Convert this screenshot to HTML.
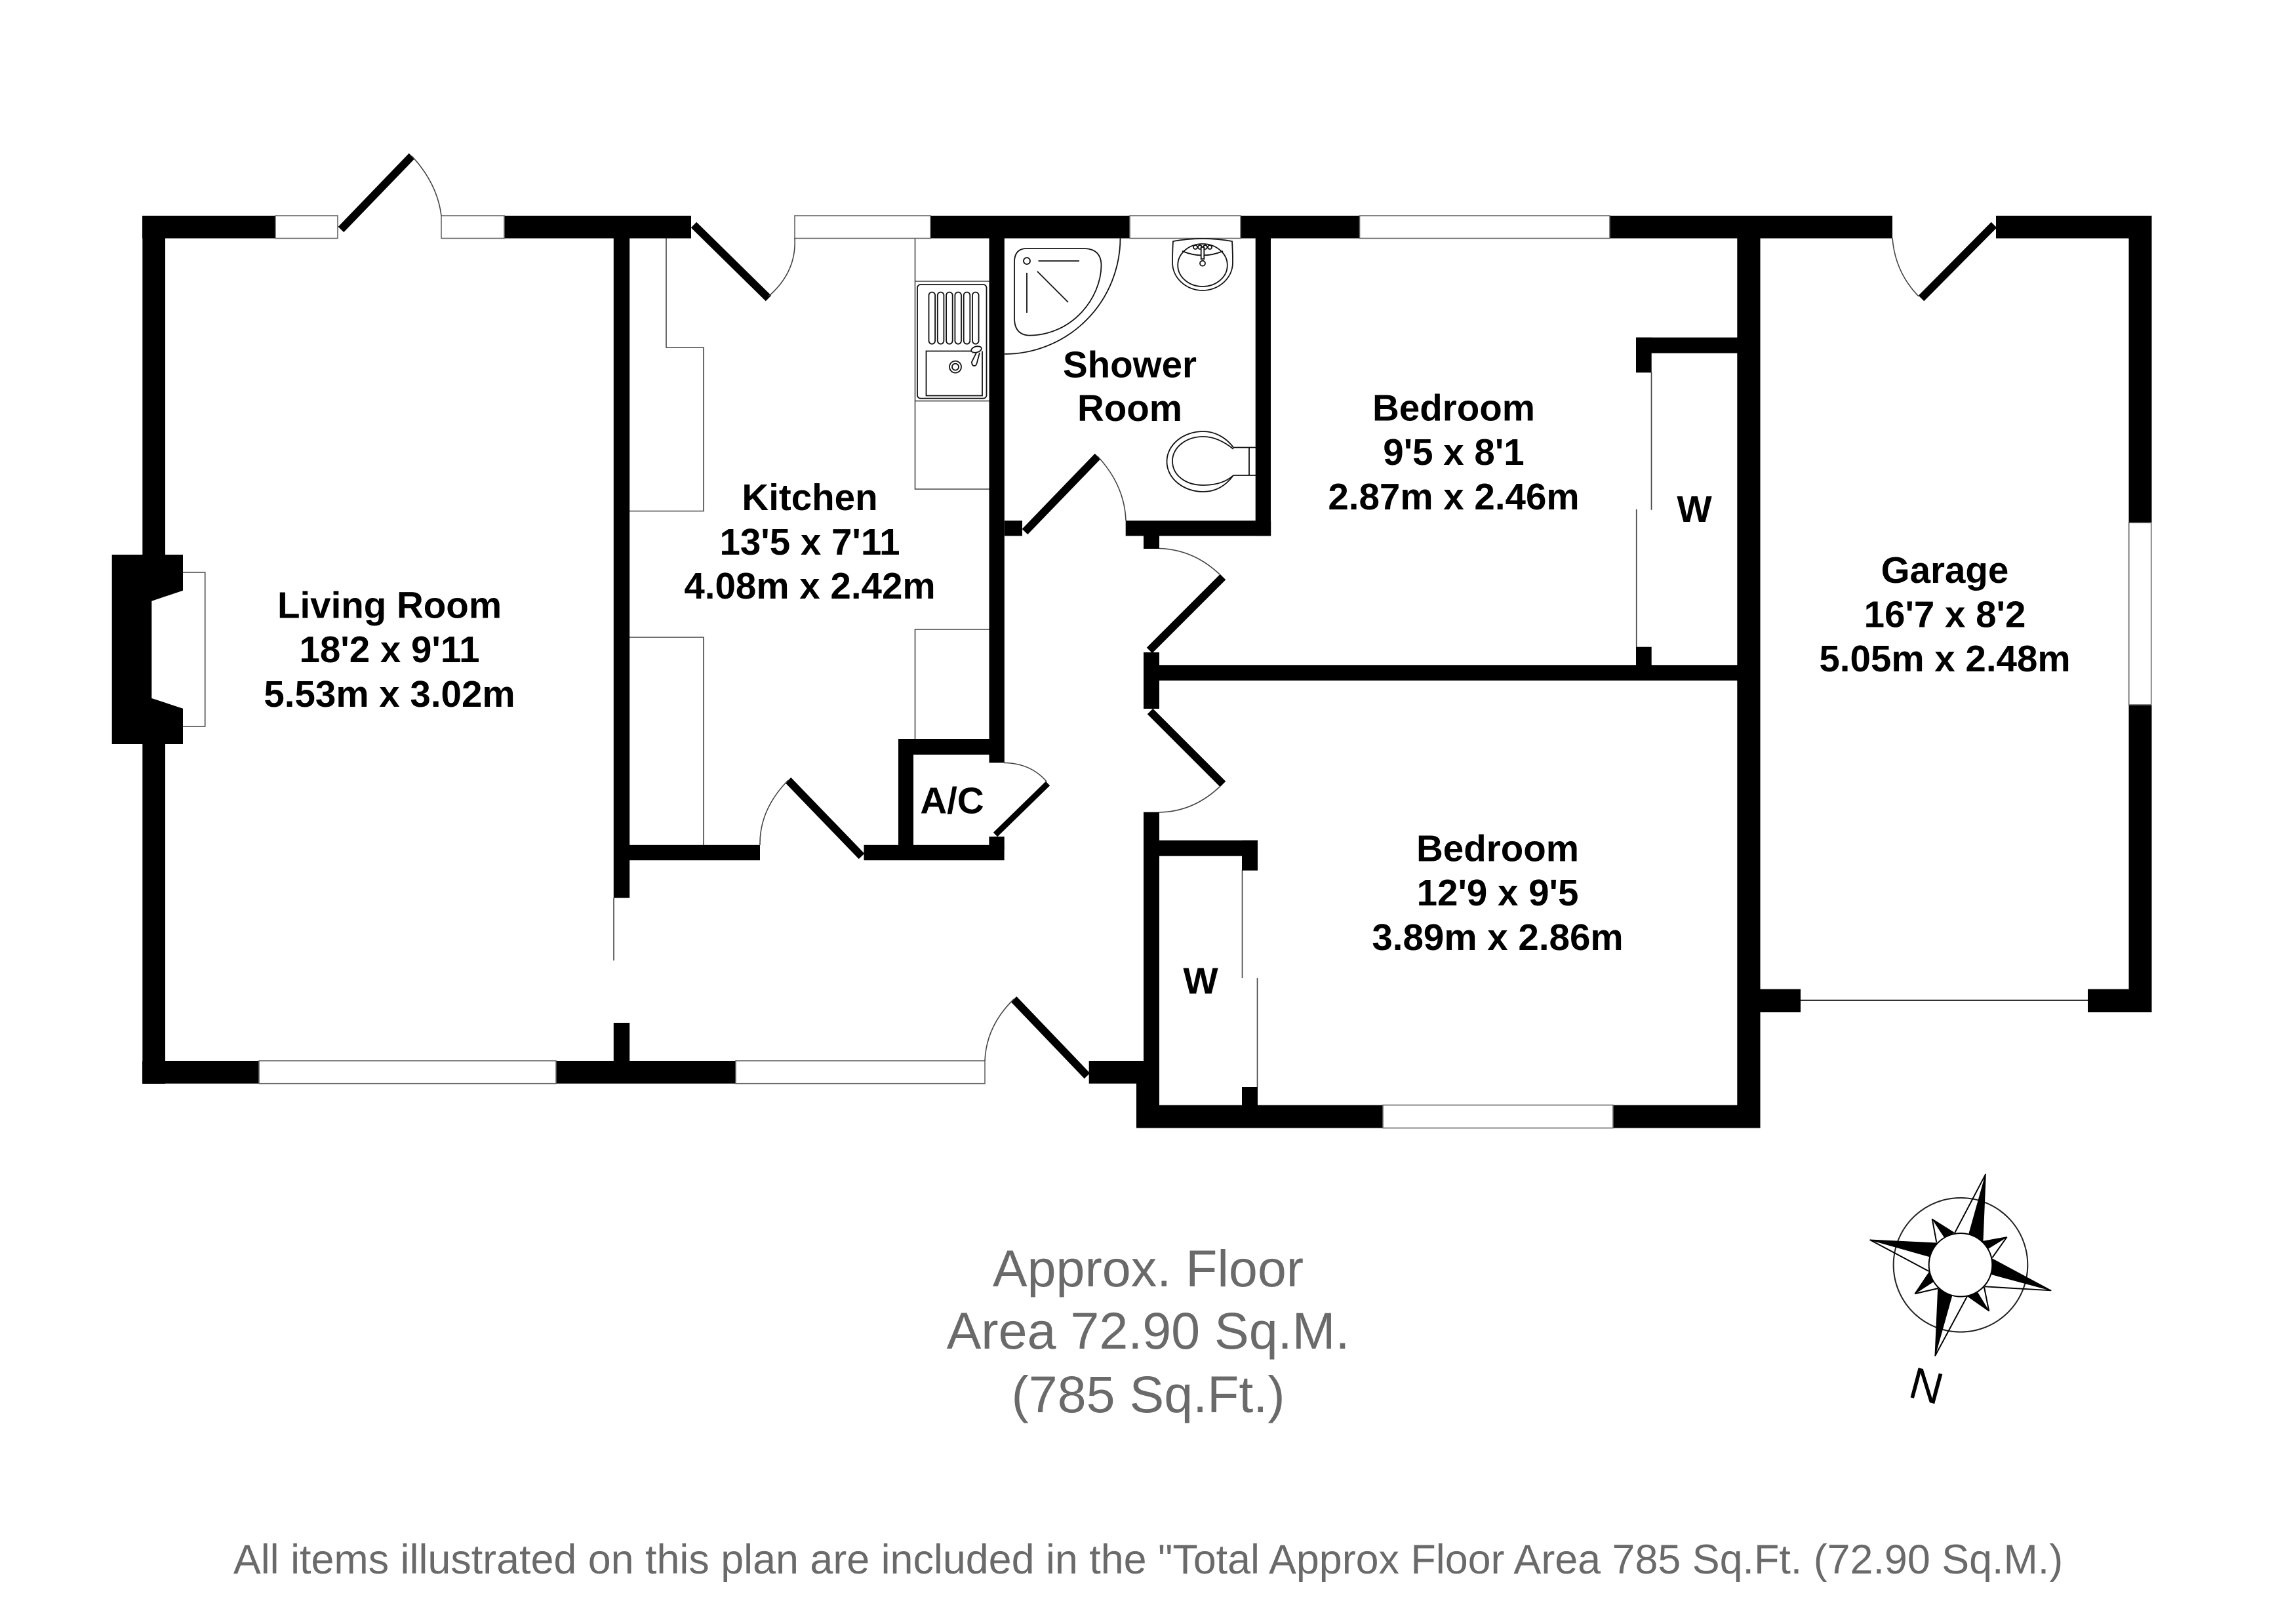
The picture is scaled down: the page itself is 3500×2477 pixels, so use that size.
<!DOCTYPE html>
<html><head><meta charset="utf-8"><title>Floor Plan</title>
<style>
html,body{margin:0;padding:0;background:#fff}
svg{display:block}
text{font-family:"Liberation Sans",sans-serif}
.l{font-weight:bold;font-size:56.5px;text-anchor:middle;fill:#000}
.g{font-size:79px;text-anchor:middle;fill:#6a6a6a}
.thin{fill:none;stroke:#444;stroke-width:1.6}
.win{fill:#fff;stroke:#666;stroke-width:1.6}
.leaf{stroke:#000;stroke-width:12;fill:none}
.fix{fill:none;stroke:#111;stroke-width:1.8}
</style></head><body>
<svg width="3500" height="2477" viewBox="0 0 3500 2477" xmlns="http://www.w3.org/2000/svg">
<rect width="3500" height="2477" fill="#fff"/>

<!-- thin fittings -->
<path class="thin" d="M1016 363V530H1073V779.5H960"/>
<path class="thin" d="M960 972H1073V1289"/>
<path class="thin" d="M1395.5 363V746H1508.5M1395.5 429H1508.5M1395.5 611.6H1508.5"/>
<path class="thin" d="M1508.5 960H1395.5V1127"/>
<path class="thin" d="M936 1369.6V1465"/>
<path class="thin" d="M1894.5 1327V1492M1917.5 1492V1658"/>
<path class="thin" d="M2518.5 568V777.7M2495.7 776.7V986.7"/>
<path d="M2746 1525.7H3184" stroke="#000" stroke-width="1.8" fill="none"/>

<!-- walls -->
<g fill="#000">
<rect x="217" y="329" width="203" height="34.5"/>
<rect x="769" y="329" width="285" height="34.5"/>
<rect x="1419" y="329" width="304" height="34.5"/>
<rect x="1892" y="329" width="181.5" height="34.5"/>
<rect x="2455" y="329" width="431" height="34.5"/>
<rect x="3044" y="329" width="237.5" height="34.5"/>
<rect x="217.3" y="329" width="34.7" height="520"/>
<rect x="217.3" y="1132" width="34.7" height="521"/>
<polygon points="170.7,846 279,846 279,900.7 231.3,916.7 231.3,1065 279,1080.7 279,1135 170.7,1135"/>
<rect x="217" y="1618" width="178" height="34.7"/>
<rect x="848" y="1618" width="274" height="34.7"/>
<rect x="1660.7" y="1618" width="84" height="34.7"/>
<rect x="935.8" y="363" width="24.4" height="1006.6"/>
<rect x="935.8" y="1560" width="24.4" height="60"/>
<rect x="960" y="1288.8" width="199" height="23.4"/>
<rect x="1317.5" y="1288.8" width="214.1" height="23.4"/>
<rect x="1508.5" y="363" width="23.3" height="800.4"/>
<rect x="1370" y="1127" width="140" height="24"/>
<rect x="1370" y="1127" width="23" height="165"/>
<rect x="1508.4" y="1276" width="23.3" height="20"/>
<rect x="1914.7" y="363" width="23.3" height="454.3"/>
<rect x="1716.7" y="794" width="221.5" height="23.4"/>
<rect x="1532" y="794" width="27" height="23.4"/>
<rect x="1744" y="817" width="24" height="20"/>
<rect x="1744" y="995" width="24" height="86"/>
<rect x="1768" y="1014.3" width="900" height="23.7"/>
<rect x="1744" y="1238.7" width="24" height="481.8"/>
<rect x="1733" y="1650" width="35" height="70.5"/>
<rect x="1768" y="1281.7" width="150" height="24"/>
<rect x="1894" y="1281.7" width="24" height="46"/>
<rect x="1894" y="1658" width="24" height="30"/>
<rect x="1733" y="1685.5" width="376" height="35"/>
<rect x="2460" y="1685.5" width="224.5" height="35"/>
<rect x="2649.3" y="340" width="35.2" height="1380"/>
<rect x="2495" y="514.7" width="160" height="24"/>
<rect x="2495" y="514.7" width="23.7" height="53.6"/>
<rect x="2495" y="986.7" width="23.7" height="28"/>
<rect x="2684" y="1508.7" width="62" height="35.3"/>
<rect x="3184" y="1508.7" width="97.4" height="35.3"/>
<rect x="3246.5" y="329" width="35" height="1215"/>
</g>

<!-- windows -->
<rect class="win" x="420" y="329" width="95" height="34.5"/>
<rect class="win" x="673" y="329" width="96" height="34.5"/>
<rect class="win" x="1212" y="329" width="207" height="34.5"/>
<rect class="win" x="1723" y="329" width="169" height="34.5"/>
<rect class="win" x="2073.5" y="329" width="381.5" height="34.5"/>
<rect class="win" x="395" y="1618" width="453" height="34.7"/>
<rect class="win" x="1122" y="1618" width="380" height="34.7"/>
<rect class="win" x="2109" y="1685.5" width="351" height="35"/>
<rect class="win" x="3246.7" y="797.3" width="34" height="277.7"/>
<path class="thin" d="M279 873H312.7V1108H279"/>

<!-- doors -->
<g>
<path class="leaf" d="M520 350L628 238"/><path class="thin" d="M628 238Q667 280 673 329"/>
<path class="leaf" d="M1058 343L1172 455"/><path class="thin" d="M1172 452Q1215 415 1212 363"/>
<path class="leaf" d="M1563 811L1674 696"/><path class="thin" d="M1674 696Q1715 740 1717 794"/>
<path class="leaf" d="M1753 992L1865 880"/><path class="thin" d="M1768 836.5Q1820 838 1860 876"/>
<path class="leaf" d="M1754 1085L1865 1196"/><path class="thin" d="M1860 1200Q1820 1238 1768 1239"/>
<path class="leaf" d="M1314 1306L1202 1190"/><path class="thin" d="M1202 1190Q1158 1235 1159 1289"/>
<path class="leaf" style="stroke-width:9" d="M1518 1273L1598 1195"/><path class="thin" d="M1531 1163.5Q1572 1164 1596 1192"/>
<path class="leaf" d="M1658 1641L1546 1524"/><path class="thin" d="M1546 1524Q1504 1565 1502 1618"/>
<path class="leaf" d="M3041 343L2930 455"/><path class="thin" d="M2886 363Q2890 415 2926 452"/>
</g>

<!-- kitchen sink -->
<g class="fix" stroke-width="1.6">
<rect x="1399" y="434" width="105.5" height="173.7" rx="5"/>
<rect x="1416.5" y="445.6" width="9.6" height="79" rx="4.8"/>
<rect x="1429.8" y="445.6" width="9.6" height="79" rx="4.8"/>
<rect x="1443.1" y="445.6" width="9.6" height="79" rx="4.8"/>
<rect x="1456.4" y="445.6" width="9.6" height="79" rx="4.8"/>
<rect x="1469.7" y="445.6" width="9.6" height="79" rx="4.8"/>
<rect x="1483" y="445.6" width="9.6" height="79" rx="4.8"/>
<path d="M1481 535.5H1412.5V603.5H1498V535.5"/>
<circle cx="1457" cy="559.6" r="9"/><circle cx="1457" cy="559.6" r="5"/>
<ellipse cx="1489" cy="533" rx="8" ry="4.5" transform="rotate(-15 1489 533)" fill="#fff"/>
<path d="M1489 538L1482 552Q1482 558 1486 558Q1489 558 1490 553L1494 538" fill="#fff"/>
</g>

<!-- shower -->
<g class="fix">
<path d="M1708.5 363A176.5 177 0 0 1 1532 540"/>
<path d="M1566 379H1652Q1679.5 379 1679.5 405C1679 455 1635 511 1570 511.6Q1547 511 1547 485V400Q1547 379 1566 379Z"/>
<ellipse cx="1566" cy="398" rx="5" ry="5"/>
<path d="M1583.5 398H1646M1566 416V477M1582 414L1629 461"/>
</g>

<!-- basin -->
<g class="fix" stroke-width="1.6">
<path d="M1789 368Q1834 360 1879 368Q1880 385 1880 400C1880 425 1858 443 1834 443C1810 443 1788 425 1788 400Q1788 385 1789 368Z"/>
<ellipse cx="1834" cy="404.5" rx="37.8" ry="32.5"/>
<path d="M1803 383Q1834 396 1865 383"/>
<circle cx="1823" cy="377" r="3"/><circle cx="1830" cy="377" r="3"/><circle cx="1838" cy="377" r="3"/><circle cx="1845" cy="377" r="3"/>
<rect x="1831.7" y="377" width="4.6" height="18" fill="#fff"/>
<circle cx="1834" cy="401.7" r="4"/>
</g>

<!-- toilet -->
<g class="fix" stroke-width="1.6">
<path d="M1881 682.5C1868 665 1850 658 1835 658C1805 658 1779.5 678 1779.5 704C1779.5 730 1805 750 1835 750C1855 750 1870 740 1881 725"/>
<path d="M1881 685C1865 672 1850 666 1835 666C1808 666 1788 683 1788 703C1788 725 1808 740 1835 740C1855 740 1870 735 1881 725"/>
<path d="M1881 682.5H1915M1881 725H1915M1905 682.5V725"/>
</g>

<!-- compass -->
<g transform="translate(2800 1760) scale(0.3333)">
<circle cx="570" cy="508" r="307" fill="none" stroke="#222" stroke-width="6"/>
<g fill="#000" stroke="#000" stroke-width="3" stroke-linejoin="miter">
<polygon points="685,92 608,368 672,398"/>
<polygon points="985,625 715,480 708,550"/>
<polygon points="453,925 467,618 530,650"/>
<polygon points="155,393 460,408 428,470"/>
<polygon points="782,380 672,400 698,432"/>
<polygon points="700,720 600,650 645,630"/>
<polygon points="360,640 427,540 445,585"/>
<polygon points="440,297 540,360 495,380"/>
</g>
<path d="M685 92L543 362M985 625L680 607M453 925L600 652M155 393L425 537M782 380L715 475M700 720L678 610M360 640L468 615M440 297L460 405" stroke="#000" stroke-width="6" fill="none"/>
<circle cx="570" cy="508" r="145" fill="#fff" stroke="#000" stroke-width="6"/>
</g>
<text x="2938" y="2137" font-size="68" text-anchor="middle" fill="#000" transform="rotate(15 2938 2113)">N</text>

<!-- labels -->
<text class="l" x="594" y="942.7">Living Room</text>
<text class="l" x="594" y="1010">18'2 x 9'11</text>
<text class="l" x="594" y="1078">5.53m x 3.02m</text>

<text class="l" x="1235" y="778">Kitchen</text>
<text class="l" x="1235" y="846">13'5 x 7'11</text>
<text class="l" x="1235" y="913">4.08m x 2.42m</text>

<text class="l" x="1723" y="575.5">Shower</text>
<text class="l" x="1723" y="642">Room</text>

<text class="l" x="2217" y="641.5">Bedroom</text>
<text class="l" x="2217" y="709">9'5 x 8'1</text>
<text class="l" x="2217" y="777">2.87m x 2.46m</text>

<text class="l" x="2284" y="1313.5">Bedroom</text>
<text class="l" x="2284" y="1381">12'9 x 9'5</text>
<text class="l" x="2284" y="1449">3.89m x 2.86m</text>

<text class="l" x="2966" y="889">Garage</text>
<text class="l" x="2966" y="956.5">16'7 x 8'2</text>
<text class="l" x="2966" y="1024">5.05m x 2.48m</text>

<text class="l" x="1452" y="1240.6">A/C</text>
<text class="l" x="2584" y="796">W</text>
<text class="l" x="1831" y="1515.6">W</text>

<text class="g" x="1751" y="1962">Approx. Floor</text>
<text class="g" x="1751" y="2057">Area 72.90 Sq.M.</text>
<text class="g" x="1751" y="2154">(785 Sq.Ft.)</text>
<text x="1751" y="2400" font-size="62.8" text-anchor="middle" fill="#6a6a6a">All items illustrated on this plan are included in the "Total Approx Floor Area 785 Sq.Ft. (72.90 Sq.M.)</text>
</svg>
</body></html>
